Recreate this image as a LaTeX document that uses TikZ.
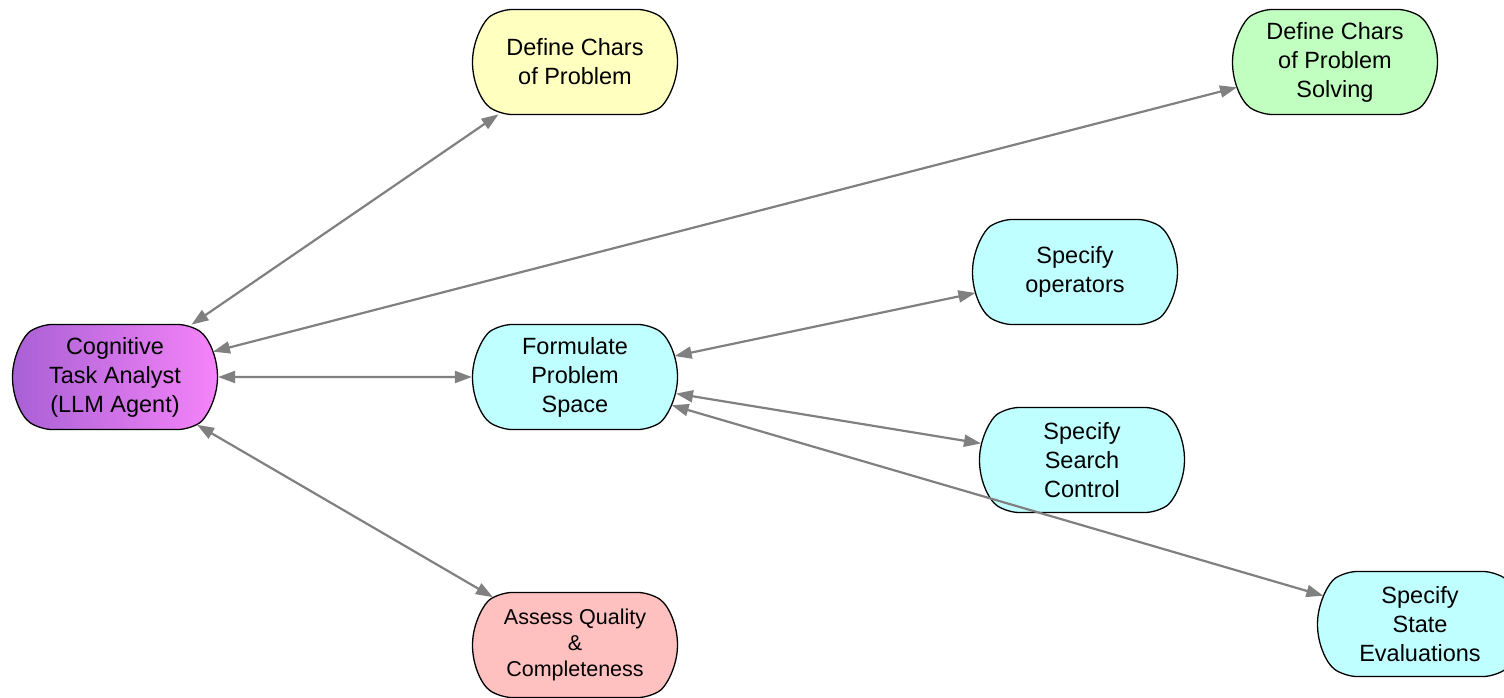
\documentclass[tikz,border=0pt]{standalone}
\usepackage{fontspec}
\setmainfont{Liberation Sans}
\usetikzlibrary{shapes.misc,arrows.meta}
\definecolor{edgegray}{RGB}{128,128,128}
\definecolor{probyellow}{RGB}{255,255,192}
\definecolor{solvegreen}{RGB}{192,255,192}
\definecolor{spacecyan}{RGB}{192,255,255}
\definecolor{assesspink}{RGB}{255,192,192}
\definecolor{agentleft}{RGB}{168,96,212}
\definecolor{agentright}{RGB}{246,132,250}
\tikzset{
  task/.style={rounded rectangle, rounded rectangle arc length=110,
    rounded corners=12pt,
    draw=black, line width=1.3pt, minimum width=205pt, minimum height=105pt,
    inner sep=0pt, align=center, font=\fontsize{23.5}{29}\selectfont},
  link/.style={draw=edgegray, line width=2.2pt, sharp corners,
    {Triangle[length=17pt,width=12pt]}-{Triangle[length=17pt,width=12pt]}}
}
\begin{document}
\begin{tikzpicture}[x=1pt,y=1pt]
\useasboundingbox (0,0) rectangle (1504,-697);
\node[task, left color=agentleft, right color=agentright] (cta) at (115,-377) {Cognitive\\Task Analyst\\(LLM Agent)};
\node[task, fill=probyellow] (dcp) at (575,-62) {Define Chars\\of Problem};
\node[task, fill=solvegreen] (dcps) at (1335,-62) {Define Chars\\of Problem\\Solving};
\node[task, fill=spacecyan] (fps) at (575,-377) {Formulate\\Problem\\Space};
\node[task, fill=spacecyan] (ops) at (1075,-272) {Specify\\operators};
\node[task, fill=spacecyan] (ssc) at (1082,-460) {Specify\\Search\\Control};
\node[task, fill=spacecyan] (sse) at (1420,-624) {Specify\\State\\Evaluations};
\node[task, fill=assesspink, font=\fontsize{21.5}{26}\selectfont] (aqc) at (575,-645) {Assess Quality\\\&\\Completeness};
\draw[link] (cta) -- (dcp);
\draw[link] (cta) -- (dcps);
\draw[link] (cta) -- (fps);
\draw[link] (cta) -- (aqc);
\draw[link] (fps) -- (ops);
\draw[link] (fps) -- (ssc);
\draw[link] (fps) -- (sse);
\end{tikzpicture}
\end{document}
